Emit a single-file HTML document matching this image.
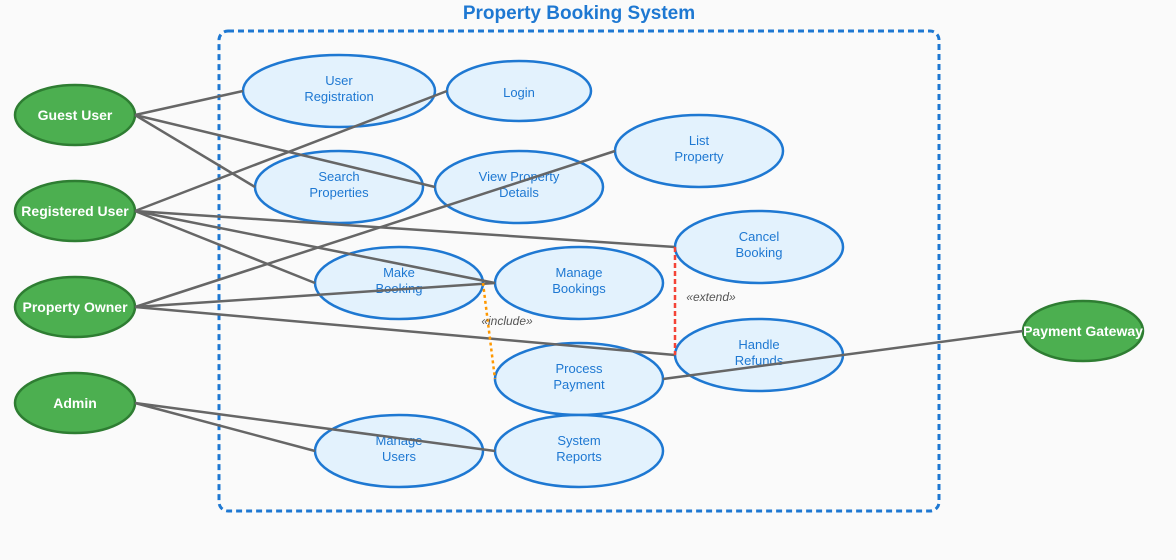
<!DOCTYPE html>
<html><head><style>body{margin:0;background:#fafafa}</style></head><body>
<svg width="1176" height="555" viewBox="0 0 1176 555" xmlns="http://www.w3.org/2000/svg" font-family="Liberation Sans, sans-serif">
<rect width="1176" height="555" fill="#fafafa"/>
<text x="579" y="19" text-anchor="middle" font-size="19" font-weight="bold" fill="#1e78d2">Property Booking System</text>
<rect x="219" y="31" width="720" height="480" rx="9" fill="none" stroke="#1e78d2" stroke-width="3" stroke-dasharray="6,4"/>
<g fill="#e3f2fd" stroke="#1e78d2" stroke-width="2.5">
<ellipse cx="339" cy="91" rx="96" ry="36"/>
<ellipse cx="519" cy="91" rx="72" ry="30"/>
<ellipse cx="699" cy="151" rx="84" ry="36"/>
<ellipse cx="339" cy="187" rx="84" ry="36"/>
<ellipse cx="519" cy="187" rx="84" ry="36"/>
<ellipse cx="759" cy="247" rx="84" ry="36"/>
<ellipse cx="399" cy="283" rx="84" ry="36"/>
<ellipse cx="579" cy="283" rx="84" ry="36"/>
<ellipse cx="759" cy="355" rx="84" ry="36"/>
<ellipse cx="579" cy="379" rx="84" ry="36"/>
<ellipse cx="399" cy="451" rx="84" ry="36"/>
<ellipse cx="579" cy="451" rx="84" ry="36"/>
</g>
<g fill="#4caf50" stroke="#2e7d32" stroke-width="2.5">
<ellipse cx="75" cy="115" rx="60" ry="30"/>
<ellipse cx="75" cy="211" rx="60" ry="30"/>
<ellipse cx="75" cy="307" rx="60" ry="30"/>
<ellipse cx="75" cy="403" rx="60" ry="30"/>
<ellipse cx="1083" cy="331" rx="60" ry="30"/>
</g>
<g font-size="13" fill="#1e78d2" text-anchor="middle">
<text x="339" y="85">User</text><text x="339" y="101">Registration</text>
<text x="519" y="97">Login</text>
<text x="699" y="145">List</text><text x="699" y="161">Property</text>
<text x="339" y="181">Search</text><text x="339" y="197">Properties</text>
<text x="519" y="181">View Property</text><text x="519" y="197">Details</text>
<text x="759" y="241">Cancel</text><text x="759" y="257">Booking</text>
<text x="399" y="277">Make</text><text x="399" y="293">Booking</text>
<text x="579" y="277">Manage</text><text x="579" y="293">Bookings</text>
<text x="759" y="349">Handle</text><text x="759" y="365">Refunds</text>
<text x="579" y="373">Process</text><text x="579" y="389">Payment</text>
<text x="399" y="445">Manage</text><text x="399" y="461">Users</text>
<text x="579" y="445">System</text><text x="579" y="461">Reports</text>
</g>
<g font-size="14" font-weight="bold" fill="#fff" text-anchor="middle">
<text x="75" y="120">Guest User</text>
<text x="75" y="216">Registered User</text>
<text x="75" y="312">Property Owner</text>
<text x="75" y="408">Admin</text>
<text x="1083" y="336">Payment Gateway</text>
</g>
<g stroke="#666" stroke-width="2.5" fill="none">
<line x1="135" y1="115" x2="243" y2="91"/>
<line x1="135" y1="115" x2="435" y2="187"/>
<line x1="135" y1="115" x2="255" y2="187"/>
<line x1="135" y1="211" x2="447" y2="91"/>
<line x1="135" y1="211" x2="675" y2="247"/>
<line x1="135" y1="211" x2="315" y2="283"/>
<line x1="135" y1="211" x2="495" y2="283"/>
<line x1="135" y1="307" x2="615" y2="151"/>
<line x1="135" y1="307" x2="495" y2="283"/>
<line x1="135" y1="307" x2="675" y2="355"/>
<line x1="135" y1="403" x2="315" y2="451"/>
<line x1="135" y1="403" x2="495" y2="451"/>
<line x1="1023" y1="331" x2="663" y2="379"/>
</g>
<line x1="483" y1="283" x2="495" y2="379" stroke="#ff9800" stroke-width="2.5" stroke-dasharray="3,3"/>
<line x1="675" y1="247" x2="675" y2="355" stroke="#f44336" stroke-width="2.5" stroke-dasharray="5,3"/>
<g font-size="12" font-style="italic" fill="#555" text-anchor="middle">
<text x="507" y="325">«include»</text>
<text x="711" y="301">«extend»</text>
</g>
</svg>
</body></html>
